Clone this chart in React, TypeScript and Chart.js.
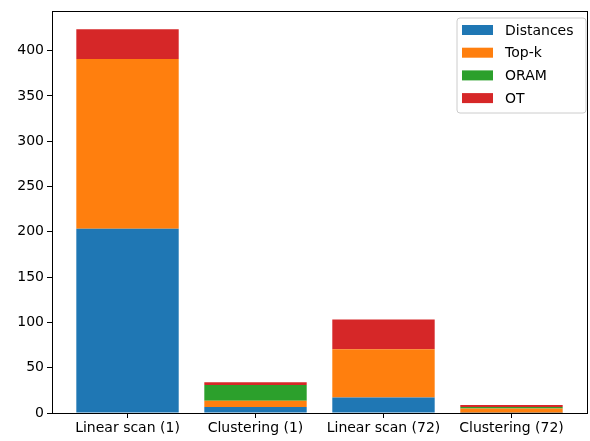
import React, { useEffect, useRef } from "react";
import { Chart, registerables } from "chart.js";

Chart.register(...registerables);

const categories = ["Linear scan (1)", "Clustering (1)", "Linear scan (72)", "Clustering (72)"];
const seriesNames = ["Distances", "Top-k", "ORAM", "OT"];
const distances = [203.5, 6.5, 17, 0.4];
const topK = [187.3, 7, 53.5, 4.6];
const oram = [0, 17.5, 0, 1.5];
const ot = [32.7, 3, 32.7, 2.3];
const yTicks = [0, 50, 100, 150, 200, 250, 300, 350, 400];
const colors = ["#1f77b4", "#ff7f0e", "#2ca02c", "#d62728"];

const FONT = "DejaVu Sans";

const frameAndLegend = {
  id: "frameAndLegend",
  afterDraw(chart: any) {
    const { ctx, chartArea } = chart;
    ctx.save();
    ctx.strokeStyle = "#000";
    ctx.lineWidth = 1;
    ctx.strokeRect(
      Math.round(chartArea.left) + 0.5,
      Math.round(chartArea.top) + 0.5,
      Math.round(chartArea.right - chartArea.left),
      Math.round(chartArea.bottom - chartArea.top)
    );
    // legend
    const bx = 457, by = 18, bw = 129, bh = 95, r = 3;
    ctx.beginPath();
    ctx.moveTo(bx + r, by);
    ctx.lineTo(bx + bw - r, by);
    ctx.quadraticCurveTo(bx + bw, by, bx + bw, by + r);
    ctx.lineTo(bx + bw, by + bh - r);
    ctx.quadraticCurveTo(bx + bw, by + bh, bx + bw - r, by + bh);
    ctx.lineTo(bx + r, by + bh);
    ctx.quadraticCurveTo(bx, by + bh, bx, by + bh - r);
    ctx.lineTo(bx, by + r);
    ctx.quadraticCurveTo(bx, by, bx + r, by);
    ctx.closePath();
    ctx.fillStyle = "rgba(255,255,255,0.8)";
    ctx.fill();
    ctx.strokeStyle = "#cccccc";
    ctx.stroke();
    ctx.font = `14px "${FONT}"`;
    ctx.textBaseline = "middle";
    ctx.textAlign = "left";
    chart.data.datasets.forEach((ds: any, i: number) => {
      const cy = by + 12 + i * 22.7;
      ctx.fillStyle = ds.backgroundColor;
      ctx.fillRect(bx + 5, cy - 5, 31, 10);
      ctx.fillStyle = "#000";
      ctx.fillText(ds.label, bx + 48, cy + 1);
    });
    ctx.restore();
  },
};

export default function App() {
  const ref = useRef<HTMLCanvasElement>(null);
  useEffect(() => {
    document.body.style.margin = "0";
    const series = [distances, topK, oram, ot];
    const chart = new Chart(ref.current!, {
      type: "bar",
      data: {
        datasets: series.map((vals, i) => ({
          label: seriesNames[i],
          data: vals.map((v, j) => ({ x: j, y: v })),
          backgroundColor: colors[i],
          borderWidth: 0,
          barPercentage: 0.8,
          categoryPercentage: 1.0,
          stack: "s",
        })),
      },
      options: {
        animation: false,
        responsive: false,
        maintainAspectRatio: false,
        layout: { padding: { top: 11, right: 3, left: 0, bottom: 0 } },
        plugins: { legend: { display: false }, tooltip: { enabled: false } },
        scales: {
          x: {
            type: "linear",
            stacked: true,
            min: -0.59,
            max: 3.59,
            offset: false,
            afterBuildTicks: (axis: any) => {
              axis.ticks = categories.map((_, i) => ({ value: i }));
            },
            afterFit: (axis: any) => {
              axis.height = 28;
            },
            grid: {
              offset: false,
              drawOnChartArea: false,
              drawTicks: true,
              tickLength: 5,
              color: "#000",
            },
            border: { display: false },
            ticks: {
              autoSkip: false,
              maxRotation: 0,
              padding: 2,
              color: "#000",
              font: { family: FONT, size: 14 },
              callback: (v: any) => categories[Math.round(Number(v))] ?? "",
            },
          },
          y: {
            stacked: true,
            min: 0,
            max: 443.3,
            afterBuildTicks: (axis: any) => {
              axis.ticks = yTicks.map((v) => ({ value: v }));
            },
            afterFit: (axis: any) => {
              axis.width = 52;
            },
            grid: {
              drawOnChartArea: false,
              drawTicks: true,
              tickLength: 5,
              color: "#000",
            },
            border: { display: false },
            ticks: {
              padding: 3,
              color: "#000",
              font: { family: FONT, size: 14 },
            },
          },
        },
      },
      plugins: [frameAndLegend],
    });
    return () => chart.destroy();
  }, []);
  return (
    <div style={{ width: 590, height: 441 }}>
      <canvas ref={ref} width={590} height={441} style={{ display: "block" }} />
    </div>
  );
}
